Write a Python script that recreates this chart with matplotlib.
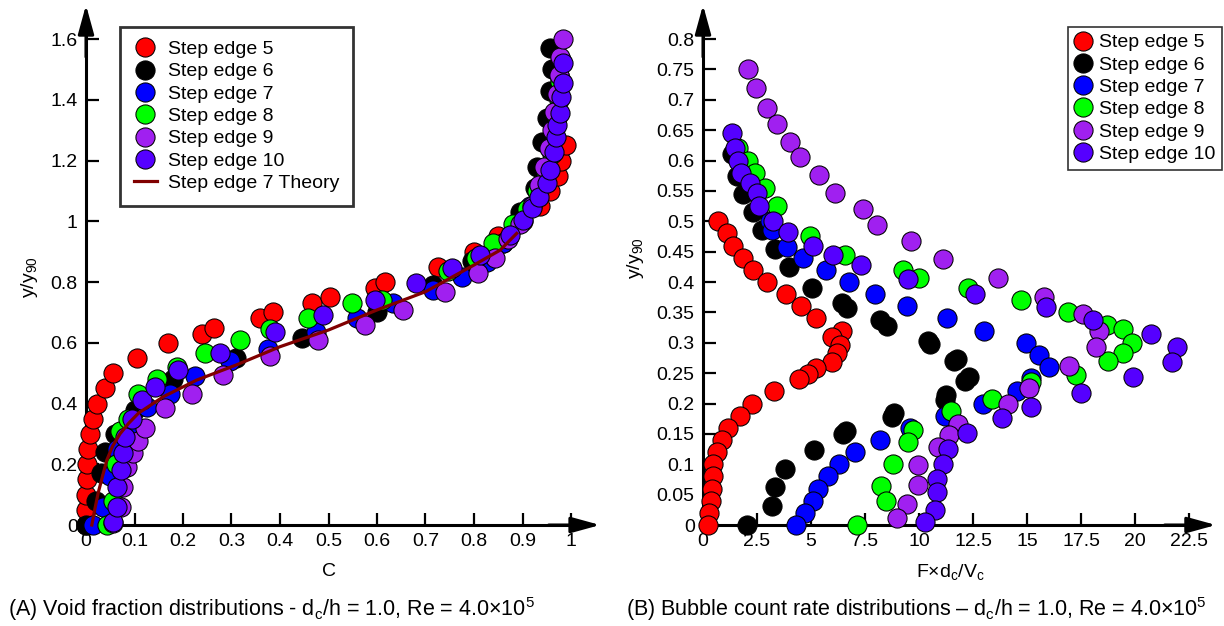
import matplotlib
matplotlib.use("Agg")
import matplotlib.pyplot as plt
from matplotlib.ticker import FixedLocator, FuncFormatter
from matplotlib.lines import Line2D

plt.rcParams['font.family'] = ['Liberation Sans', 'DejaVu Sans']
plt.rcParams['mathtext.fontset'] = 'custom'
plt.rcParams['mathtext.rm'] = 'Liberation Sans'
plt.rcParams['mathtext.it'] = 'Liberation Sans'
plt.rcParams['mathtext.bf'] = 'Liberation Sans'
plt.rcParams['mathtext.default'] = 'regular'

labels = ['Step edge 5', 'Step edge 6', 'Step edge 7', 'Step edge 8', 'Step edge 9', 'Step edge 10']
colors = ['#FF0000', '#000000', '#0000FF', '#00FF00', '#A020F0', '#5500FF']

# ---- Panel A : void fraction ----
C5 = [0, 0, 0, 0.002, 0.003, 0.005, 0.008, 0.015, 0.022, 0.039, 0.056, 0.105, 0.17, 0.239, 0.263, 0.359, 0.386,
      0.465, 0.503, 0.596, 0.616, 0.726, 0.80, 0.85, 0.90, 0.936, 0.957, 0.974, 0.98, 0.99]
y5 = [0, 0.05, 0.1, 0.15, 0.2, 0.25, 0.3, 0.35, 0.4, 0.45, 0.5, 0.55, 0.6, 0.63, 0.65, 0.68, 0.7,
      0.73, 0.75, 0.78, 0.8, 0.85, 0.9, 0.95, 1.0, 1.05, 1.1, 1.15, 1.2, 1.25]
C6 = [0.0, 0.02, 0.03, 0.04, 0.06, 0.1, 0.18, 0.31, 0.445, 0.60, 0.716, 0.795, 0.86, 0.895, 0.926, 0.93,
      0.94, 0.95, 0.957, 0.96, 0.957]
y6 = [0, 0.08, 0.17, 0.24, 0.3, 0.38, 0.48, 0.55, 0.615, 0.70, 0.79, 0.87, 0.93, 1.03, 1.11, 1.18,
      1.26, 1.34, 1.43, 1.50, 1.57]
C7 = [0.015, 0.035, 0.05, 0.063, 0.09, 0.125, 0.173, 0.225, 0.297, 0.376, 0.475, 0.558, 0.634, 0.716, 0.775,
      0.826, 0.86, 0.89, 0.915, 0.935, 0.95, 0.96, 0.965, 0.97, 0.975, 0.977, 0.98]
y7 = [0, 0.06, 0.16, 0.25, 0.33, 0.39, 0.43, 0.49, 0.54, 0.58, 0.636, 0.68, 0.73, 0.773, 0.817,
      0.867, 0.93, 0.99, 1.05, 1.11, 1.17, 1.23, 1.29, 1.35, 1.41, 1.47, 1.53]
C8 = [0.043, 0.056, 0.062, 0.07, 0.087, 0.107, 0.146, 0.187, 0.245, 0.317, 0.38, 0.458, 0.548, 0.61, 0.747,
      0.805, 0.84, 0.88, 0.91, 0.93, 0.948, 0.96, 0.968, 0.972, 0.975, 0.978]
y8 = [0, 0.08, 0.2, 0.31, 0.35, 0.43, 0.48, 0.52, 0.565, 0.61, 0.645, 0.68, 0.73, 0.74, 0.837,
      0.88, 0.93, 0.99, 1.04, 1.1, 1.16, 1.22, 1.28, 1.34, 1.40, 1.46]
C9 = [0.056, 0.073, 0.077, 0.084, 0.097, 0.107, 0.122, 0.163, 0.218, 0.283, 0.38, 0.479, 0.575, 0.654, 0.74,
      0.808, 0.843, 0.87, 0.895, 0.92, 0.935, 0.945, 0.955, 0.96, 0.965, 0.972, 0.975, 0.978, 0.984]
y9 = [0.005, 0.06, 0.126, 0.19, 0.236, 0.275, 0.32, 0.385, 0.43, 0.494, 0.556, 0.61, 0.66, 0.708, 0.768,
      0.83, 0.88, 0.94, 0.99, 1.05, 1.12, 1.18, 1.24, 1.3, 1.36, 1.42, 1.48, 1.54, 1.6]
C10 = [0.056, 0.063, 0.063, 0.073, 0.077, 0.08, 0.094, 0.115, 0.142, 0.19, 0.276, 0.39, 0.489, 0.596, 0.68,
       0.754, 0.812, 0.874, 0.902, 0.919, 0.934, 0.95, 0.957, 0.965, 0.969, 0.971, 0.977, 0.98, 0.983, 0.984]
y10 = [0.01, 0.06, 0.126, 0.18, 0.236, 0.29, 0.35, 0.41, 0.455, 0.51, 0.565, 0.636, 0.69, 0.74, 0.796,
       0.845, 0.889, 0.955, 1.004, 1.043, 1.08, 1.125, 1.169, 1.229, 1.278, 1.317, 1.355, 1.41, 1.456, 1.52]
theory_C = [0.012, 0.018, 0.025, 0.034, 0.043, 0.055, 0.07, 0.088, 0.108, 0.159, 0.228, 0.31, 0.4, 0.5,
            0.6, 0.7, 0.8, 0.854, 0.888]
theory_y = [0, 0.05, 0.105, 0.16, 0.214, 0.26, 0.3, 0.335, 0.368, 0.422, 0.477, 0.527, 0.587, 0.642,
            0.708, 0.768, 0.856, 0.905, 0.96]

# ---- Panel B : bubble count rate ----
F5 = [0.7, 1.1, 1.4, 1.85, 2.3, 2.95, 3.84, 4.54, 5.23, 6.42, 5.96, 6.34, 6.19, 5.96, 5.23, 4.88, 4.46, 3.29,
      2.25, 1.71, 1.17, 0.86, 0.66, 0.48, 0.45, 0.4, 0.36, 0.29, 0.25]
yb5 = [0.50, 0.48, 0.46, 0.44, 0.42, 0.40, 0.38, 0.36, 0.34, 0.32, 0.31, 0.296, 0.283, 0.269, 0.258, 0.249,
       0.24, 0.22, 0.2, 0.18, 0.16, 0.14, 0.12, 0.1, 0.08, 0.06, 0.04, 0.02, 0.0]
F6 = [1.33, 1.56, 1.87, 2.3, 2.72, 3.33, 4.0, 5.03, 6.42, 6.65, 8.19, 8.5, 10.4, 10.5, 11.74, 11.6, 12.33,
      12.13, 11.25, 11.2, 8.84, 8.75, 6.6, 6.47, 5.14, 3.8, 3.33, 3.18, 2.05]
yb6 = [0.61, 0.575, 0.545, 0.515, 0.485, 0.455, 0.425, 0.39, 0.365, 0.357, 0.337, 0.327, 0.303, 0.298, 0.274,
       0.27, 0.244, 0.237, 0.214, 0.205, 0.184, 0.178, 0.155, 0.15, 0.123, 0.093, 0.062, 0.031, 0.0]
F7 = [3.1, 3.18, 3.9, 4.65, 5.7, 6.76, 7.98, 9.43, 11.31, 13.0, 14.95, 15.57, 16.03, 15.17, 14.52, 12.95,
      11.2, 9.58, 8.19, 7.04, 6.31, 5.8, 5.34, 5.1, 4.72, 4.3]
yb7 = [0.5, 0.486, 0.458, 0.44, 0.42, 0.4, 0.38, 0.36, 0.34, 0.32, 0.3, 0.28, 0.26, 0.242, 0.22, 0.2,
       0.18, 0.16, 0.14, 0.12, 0.1, 0.08, 0.06, 0.04, 0.02, 0.0]
F8 = [1.64, 2.1, 2.41, 2.87, 3.41, 4.95, 6.57, 9.27, 10.0, 12.28, 14.7, 16.9, 18.69, 19.43, 19.85, 19.43,
      18.77, 17.27, 15.2, 13.36, 11.5, 9.74, 9.5, 8.81, 8.23, 8.47, 7.15]
yb8 = [0.62, 0.6, 0.58, 0.555, 0.525, 0.475, 0.445, 0.42, 0.406, 0.39, 0.37, 0.35, 0.33, 0.323, 0.3, 0.283,
       0.27, 0.247, 0.235, 0.207, 0.187, 0.156, 0.136, 0.1, 0.064, 0.04, 0.0]
F9 = [2.1, 2.44, 2.98, 3.41, 4.03, 4.49, 5.38, 6.11, 7.42, 8.04, 9.61, 11.13, 13.67, 15.8, 17.58, 18.35,
      18.2, 16.94, 15.1, 14.1, 11.82, 11.4, 10.9, 9.97, 9.97, 9.43, 8.97]
yb9 = [0.75, 0.72, 0.687, 0.66, 0.631, 0.605, 0.576, 0.547, 0.52, 0.494, 0.467, 0.438, 0.406, 0.375, 0.348,
       0.32, 0.293, 0.262, 0.226, 0.2, 0.167, 0.148, 0.129, 0.099, 0.066, 0.035, 0.011]
F10 = [1.33, 1.48, 1.64, 1.74, 2.18, 2.49, 2.61, 3.26, 3.95, 5.08, 6.03, 7.3, 9.5, 12.59, 15.88, 18.04,
       20.74, 21.96, 21.73, 19.89, 17.5, 15.2, 13.83, 12.2, 11.36, 11.1, 10.82, 10.82, 10.74, 10.28]
yb10 = [0.645, 0.62, 0.6, 0.58, 0.563, 0.546, 0.525, 0.5, 0.483, 0.46, 0.444, 0.428, 0.405, 0.381, 0.359,
        0.338, 0.315, 0.293, 0.269, 0.244, 0.217, 0.194, 0.176, 0.151, 0.125, 0.1, 0.075, 0.055, 0.025, 0.005]

left_xticks = [0, 0.1, 0.2, 0.3, 0.4, 0.5, 0.6, 0.7, 0.8, 0.9, 1]
left_yticks = [0, 0.2, 0.4, 0.6, 0.8, 1, 1.2, 1.4, 1.6]
right_xticks = [0, 2.5, 5, 7.5, 10, 12.5, 15, 17.5, 20, 22.5]
right_yticks = [0, 0.05, 0.1, 0.15, 0.2, 0.25, 0.3, 0.35, 0.4, 0.45, 0.5, 0.55, 0.6, 0.65, 0.7, 0.75, 0.8]

W, H = 1224, 626
fig = plt.figure(figsize=(W / 100, H / 100), dpi=100)

MS = 190
EDGE_LW = 0.75
AX_LW = 2.2


def setup_axes(ax, xlim, ylim, xtip, ytip, xticks, yticks):
    ax.set_xlim(*xlim)
    ax.set_ylim(*ylim)
    for s in ['top', 'right']:
        ax.spines[s].set_visible(False)
    ax.spines['left'].set_position(('data', 0))
    ax.spines['bottom'].set_position(('data', 0))
    ax.spines['left'].set_linewidth(AX_LW)
    ax.spines['bottom'].set_linewidth(AX_LW)
    ax.spines['left'].set_bounds(0, ytip * 0.98)
    ax.spines['bottom'].set_bounds(0, xtip * 0.98)
    ax.xaxis.set_major_locator(FixedLocator(xticks))
    ax.yaxis.set_major_locator(FixedLocator(yticks))
    fmt = FuncFormatter(lambda v, p: ('%g' % v))
    ax.xaxis.set_major_formatter(fmt)
    ax.yaxis.set_major_formatter(fmt)
    ax.tick_params(direction='in', length=9, width=1.6, labelsize=14, color='black', pad=6)
    for xy, xyt in (((xtip, 0), (xtip * 0.9, 0)), ((0, ytip), (0, ytip * 0.9))):
        ax.annotate('', xy=xy, xytext=xyt,
                    arrowprops=dict(arrowstyle='-|>,head_length=0.8,head_width=0.22', color='black',
                                    lw=AX_LW, mutation_scale=22, shrinkA=0, shrinkB=0),
                    annotation_clip=False, zorder=2)


# Panel A
axA = fig.add_axes([71.45 / W, (H - 540.2) / H, 528.65 / W, 537.65 / H])
setup_axes(axA, (-0.03, 1.06), (-0.05, 1.72), 1.06, 1.712, left_xticks, left_yticks)
seriesA = [(C5, y5), (C6, y6), (C7, y7), (C8, y8), (C9, y9), (C10, y10)]
for (xs, ys), col, lab in zip(seriesA, colors, labels):
    axA.scatter(xs, ys, s=MS, c=col, edgecolors='black', linewidths=EDGE_LW, zorder=3, clip_on=False, label=lab)
axA.plot(theory_C, theory_y, color='#800000', lw=2.3, zorder=10, label='Step edge 7 Theory')
axA.set_xlabel('C', fontsize=14)
axA.set_ylabel('y/y$_{90}$', fontsize=14)
axA.xaxis.set_label_coords((329 - 71.45) / 528.65, (540.2 - 572) / 537.65)
axA.yaxis.set_label_coords((30 - 71.45) / 528.65, (540.2 - 277) / 537.65)
axA.xaxis.label.set_verticalalignment('center')
axA.yaxis.label.set_verticalalignment('center')

handlesA = [Line2D([], [], marker='o', linestyle='none', markersize=13.8, markerfacecolor=c,
                   markeredgecolor='black', markeredgewidth=EDGE_LW) for c in colors]
handlesA.append(Line2D([], [], color='#800000', lw=2.3))
legA = axA.legend(handlesA, labels + ['Step edge 7 Theory'], loc='upper left',
                  bbox_to_anchor=(120 / W, 1 - 27 / H), bbox_transform=fig.transFigure,
                  fontsize=14, frameon=True, fancybox=False, shadow=False, borderaxespad=0,
                  labelspacing=0.24, handlelength=1.2, handletextpad=0.55, borderpad=0.7)
legA.get_frame().set_edgecolor('black')
legA.get_frame().set_linewidth(2.0)
legA.set_zorder(20)

# Panel B
axB = fig.add_axes([687.9 / W, (H - 540.2) / H, 528.1 / W, 537.65 / H])
setup_axes(axB, (-0.7, 23.75), (-0.025, 0.86), 23.75, 0.856, right_xticks, right_yticks)
seriesB = [(F5, yb5), (F6, yb6), (F7, yb7), (F8, yb8), (F9, yb9), (F10, yb10)]
for (xs, ys), col, lab in zip(seriesB, colors, labels):
    axB.scatter(xs, ys, s=MS, c=col, edgecolors='black', linewidths=EDGE_LW, zorder=3, clip_on=False, label=lab)
axB.set_xlabel(r'F$\times$d$_c$/V$_c$', fontsize=14)
axB.set_ylabel('y/y$_{90}$', fontsize=14)
axB.xaxis.set_label_coords((950 - 687.9) / 528.1, (540.2 - 572) / 537.65)
axB.yaxis.set_label_coords((636 - 687.9) / 528.1, (540.2 - 258) / 537.65)
axB.xaxis.label.set_verticalalignment('center')
axB.yaxis.label.set_verticalalignment('center')

handlesB = [Line2D([], [], marker='o', linestyle='none', markersize=13.8, markerfacecolor=c,
                   markeredgecolor='black', markeredgewidth=EDGE_LW) for c in colors]
legB = axB.legend(handlesB, labels, loc='upper left',
                  bbox_to_anchor=(1068 / W, 1 - 27 / H), bbox_transform=fig.transFigure,
                  fontsize=14, frameon=True, fancybox=False, shadow=False, borderaxespad=0,
                  labelspacing=0.24, handlelength=0.8, handletextpad=0.45, borderpad=0.35)
legB.get_frame().set_edgecolor('black')
legB.get_frame().set_linewidth(1.2)
legB.set_zorder(20)

fig.text(8 / W, 1 - 609 / H, '(A) Void fraction distributions - d$_c$/h = 1.0, Re = 4.0×10$^5$',
         fontsize=15.5, ha='left', va='center')
fig.text(626 / W, 1 - 609 / H, '(B) Bubble count rate distributions – d$_c$/h = 1.0, Re = 4.0×10$^5$',
         fontsize=15.5, ha='left', va='center')

fig.savefig('out.png', dpi=100)
